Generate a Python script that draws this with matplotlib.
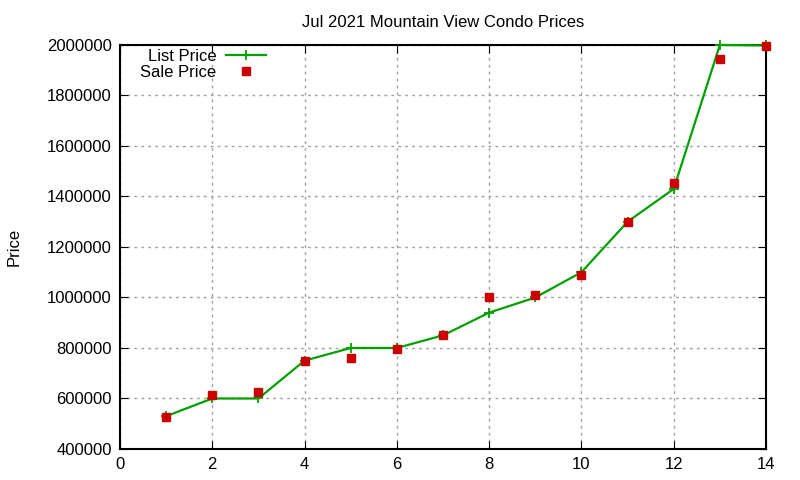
import matplotlib
matplotlib.use('Agg')
import matplotlib.pyplot as plt

plt.rcParams['font.family'] = ['Liberation Sans', 'DejaVu Sans']

# condo index (rank by price) and prices
idx = [1, 2, 3, 4, 5, 6, 7, 8, 9, 10, 11, 12, 13, 14]
list_price = [530000, 600000, 600000, 750000, 800000, 800000, 850000,
              940000, 1000000, 1100000, 1300000, 1430000, 2000000, 1998000]
sale_price = [525000, 612000, 625000, 748000, 762000, 795000, 850000,
              1000000, 1010000, 1090000, 1300000, 1452000, 1945000, 1995000]

fig = plt.figure(figsize=(8, 4.8), dpi=100)
ax = fig.add_axes([0.15, 0.0646, 0.8075, 0.8417])

ax.plot(idx, list_price, color='#00a000', lw=1.6, marker='+', ms=7, mew=1.3,
        label='List Price', clip_on=False, zorder=3)
ax.plot(idx, sale_price, ls='none', color='#cc0000', marker='s', ms=6,
        label='Sale Price', clip_on=False, zorder=4)

ax.set_xlim(0, 14)
ax.set_ylim(400000, 2000000)
ax.set_xticks(range(0, 15, 2))
ax.set_yticks(range(400000, 2000001, 200000))
ax.set_yticklabels([str(v) for v in range(400000, 2000001, 200000)])
ax.tick_params(direction='in', top=True, right=True, length=6, labelsize=12, pad=6)
ax.grid(True, color='#a0a0a0', ls=(0, (2, 3)), lw=1)
for s in ax.spines.values():
    s.set_linewidth(1.5)

ax.set_title('Jul 2021 Mountain View Condo Prices', fontsize=12, pad=13)
ax.set_ylabel('Price', fontsize=12, labelpad=18)

ax.legend(loc='upper left', bbox_to_anchor=(0.016, 1.015), frameon=False,
          markerfirst=False, fontsize=12, handlelength=2.45, handletextpad=0.55,
          labelspacing=0.05, borderaxespad=0.2)

fig.savefig('out.png', dpi=100)
